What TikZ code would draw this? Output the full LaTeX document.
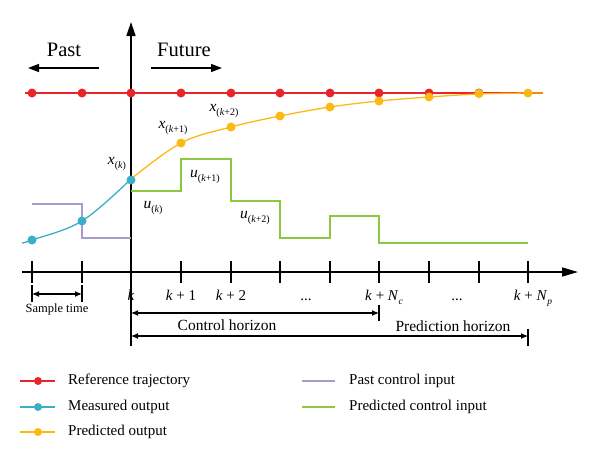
\documentclass[tikz,border=0pt]{standalone}
\usepackage{fontspec}
\setmainfont{Liberation Serif}
\usetikzlibrary{arrows.meta}
\definecolor{cred}{HTML}{E8262A}
\definecolor{cyel}{HTML}{FDB913}
\definecolor{cblue}{HTML}{3AAFC9}
\definecolor{cpur}{HTML}{A99BCB}
\definecolor{cgrn}{HTML}{8DC63F}
\newcommand{\vsub}[2]{\textit{#1}\raisebox{-0.7ex}{\fontsize{10}{10}\selectfont(\textit{#2})}}
\newcommand{\vsubb}[3]{\textit{#1}\raisebox{-0.7ex}{\fontsize{10}{10}\selectfont(\textit{#2}+#3)}}
\tikzset{
  dotr/.style={circle,fill=cred,inner sep=0pt,minimum size=9pt},
  doty/.style={circle,fill=cyel,inner sep=0pt,minimum size=9pt},
  dotb/.style={circle,fill=cblue,inner sep=0pt,minimum size=9pt},
  axis/.style={line width=1.6pt,black},
  tick/.style={line width=1.4pt,black},
  bigtxt/.style={font=\fontsize{20.5}{20.5}\selectfont,inner sep=0pt},
  ticklbl/.style={font=\fontsize{15}{15}\selectfont,inner sep=0pt,anchor=base},
  lbl/.style={font=\fontsize{15.5}{15.5}\selectfont,inner sep=0pt},
  leg/.style={font=\fontsize{15}{15}\selectfont,inner sep=0pt,anchor=west},
  cline/.style={line width=1.3pt}
}
\begin{document}
\begin{tikzpicture}[x=1pt,y=-1pt]
\useasboundingbox (0,0) rectangle (600,461);
% axes
\coordinate (yb) at (131,346);
\coordinate (yt) at (131,22);
\coordinate (xl) at (22,272);
\coordinate (xr) at (578,272);
\draw[axis,-{Triangle[length=14pt,width=9pt]}] (yb) -- (yt);
\draw[axis,-{Triangle[length=16pt,width=9pt]}] (xl) -- (xr);
\foreach \x in {32,82,131,181,231,280,330,379,429,479,528}
  \draw[tick] (\x,261) -- (\x,283);
% past / future
\node[bigtxt] (past) at (64,50) {Past};
\node[bigtxt] (fut) at (184,50) {Future};
\coordinate (pa1) at (99,68); \coordinate (pa2) at (28,68);
\coordinate (fa1) at (151,68); \coordinate (fa2) at (222,68);
\draw[line width=1.4pt,-{Triangle[length=11pt,width=8pt]}] (pa1) -- (pa2);
\draw[line width=1.4pt,-{Triangle[length=11pt,width=8pt]}] (fa1) -- (fa2);
% past control input
\draw[cpur,cline] (32,204) -- (82,204) -- (82,238) -- (131,238);
% predicted control input
\draw[cgrn,cline] (131,191) -- (181,191) -- (181,159) -- (231,159) -- (231,201) -- (280,201) -- (280,238) -- (330,238) -- (330,216) -- (379,216) -- (379,243) -- (528,243);
% reference
\draw[cred,cline] (25,93) -- (543,93);
\foreach \x/\n in {32/1,82/2,131/3,181/4,231/5,280/6,330/7,379/8,429/9,479/10}
  \node[dotr] (r\n) at (\x,93) {};
% predicted output curve
\draw[cyel,cline] plot[smooth,tension=0.6] coordinates {(131,179) (181,143) (231,127) (280,116) (330,107) (379,101) (429,97) (479,94) (528,93) (543,93)};
% measured output curve
\draw[cblue,cline] plot[smooth,tension=0.6] coordinates {(22,243) (32,240) (82,221) (131,179)};
\node[doty] (y1) at (181,143) {};
\node[doty] (y2) at (231,127) {};
\node[doty] (y3) at (280,116) {};
\node[doty] (y4) at (330,107) {};
\node[doty] (y5) at (379,101) {};
\node[doty] (y6) at (429,97) {};
\node[doty] (y7) at (479,93.5) {};
\node[doty] (y8) at (528,93) {};
\node[dotb] (b1) at (32,240) {};
\node[dotb] (b2) at (82,221) {};
\node[dotb] (b3) at (131,180) {};
% labels
\node[lbl] (lxk) at (117,164) {\vsub{x}{k}};
\node[lbl] (lxk1) at (173,128) {\vsubb{x}{k}{1}};
\node[lbl] (lxk2) at (224,111) {\vsubb{x}{k}{2}};
\node[lbl] (luk) at (153,208) {\vsub{u}{k}};
\node[lbl] (luk1) at (205,177) {\vsubb{u}{k}{1}};
\node[lbl] (luk2) at (255,218) {\vsubb{u}{k}{2}};
% tick labels
\node[ticklbl] (t0) at (131,300) {\textit{k}};
\node[ticklbl] (t1) at (181,300) {\textit{k} + 1};
\node[ticklbl] (t2) at (231,300) {\textit{k} + 2};
\node[ticklbl] (t3) at (306,300) {...};
\node[ticklbl] (t4) at (384,300) {\textit{k} + \textit{N}\raisebox{-0.6ex}{\fontsize{9.5}{9.5}\selectfont\textit{c}}};
\node[ticklbl] (t5) at (457,300) {...};
\node[ticklbl] (t6) at (533,300) {\textit{k} + \textit{N}\raisebox{-0.6ex}{\fontsize{9.5}{9.5}\selectfont\textit{p}}};
% sample time
\coordinate (s1) at (32,294); \coordinate (s2) at (82,294);
\draw[tick,line width=1.1pt] (32,285) -- (32,302);
\draw[tick,line width=1.1pt] (82,285) -- (82,302);
\draw[line width=1.1pt,{Latex[length=7pt,width=6pt]}-{Latex[length=7pt,width=6pt]}] (s1) -- (s2);
\node[font=\fontsize{12.5}{12.5}\selectfont,inner sep=0pt] (st) at (57,309) {Sample time};
% control horizon
\coordinate (c1) at (131,313); \coordinate (c2) at (379,313);
\draw[line width=1.1pt] (379,305) -- (379,321);
\draw[line width=1.1pt,{Latex[length=7pt,width=6pt]}-{Latex[length=7pt,width=6pt]}] (c1) -- (c2);
\node[font=\fontsize{15.5}{15.5}\selectfont,inner sep=0pt] (ch) at (227,325) {Control horizon};
% prediction horizon
\coordinate (p1) at (131,336); \coordinate (p2) at (528,336);
\draw[line width=1.1pt] (528,329) -- (528,346);
\draw[line width=1.1pt,{Latex[length=7pt,width=6pt]}-{Latex[length=7pt,width=6pt]}] (p1) -- (p2);
\node[font=\fontsize{15.5}{15.5}\selectfont,inner sep=0pt] (ph) at (453,326) {Prediction horizon};
% legend
\draw[cred,line width=1.1pt] (20,381) -- (55,381);
\node[dotr,minimum size=8pt] (lr) at (38,381) {};
\node[leg] (lgr) at (68,381) {Reference trajectory};
\draw[cblue,line width=1.1pt] (20,407) -- (55,407);
\node[dotb,minimum size=8pt] (lb) at (38,407) {};
\node[leg] (lgb) at (68,407) {Measured output};
\draw[cyel,line width=1.1pt] (20,432) -- (55,432);
\node[doty,minimum size=8pt] (ly) at (38,432) {};
\node[leg] (lgy) at (68,432) {Predicted output};
\draw[cpur,line width=1.1pt] (302,381) -- (335,381);
\node[leg] (lgp) at (349,381) {Past control input};
\draw[cgrn,line width=1.1pt] (302,407) -- (335,407);
\node[leg] (lgg) at (349,407) {Predicted control input};
\end{tikzpicture}
\end{document}
